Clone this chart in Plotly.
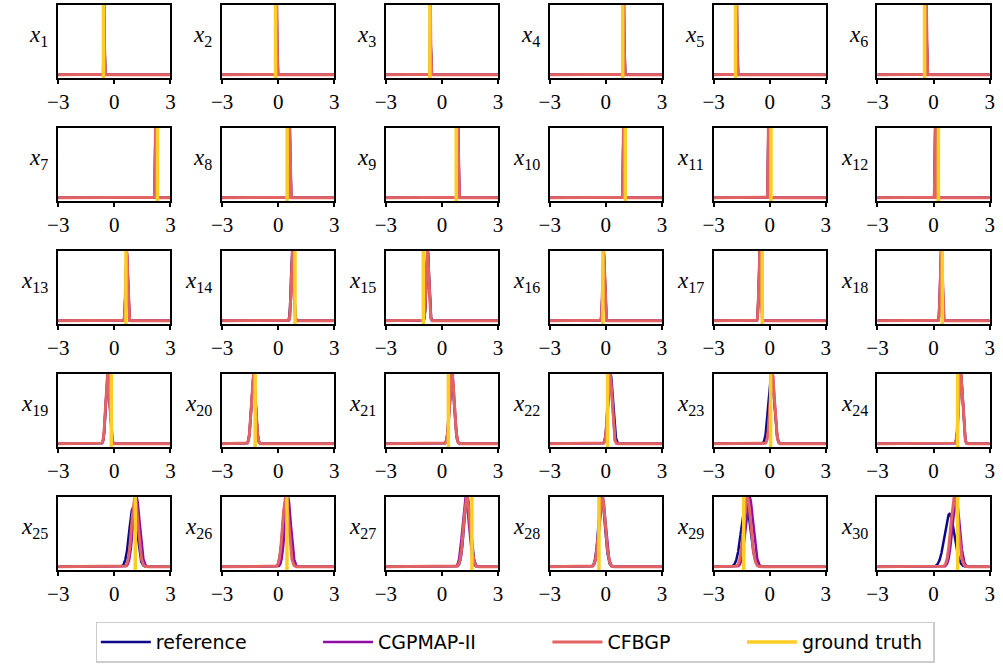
import numpy as np
import plotly.graph_objects as go

W, H = 1003, 666

# ---------------- data ----------------
truth = [-0.58, -0.14, -0.65, 0.90, -1.83, -0.48,
         2.31, 0.48, 0.76, 1.04, 0.07, 0.26,
         0.62, 0.90, -1.00, -0.16, -0.40, 0.47,
         -0.16, -1.23, 0.34, 0.09, 0.05, 1.29,
         1.12, 0.47, 1.60, -0.37, -1.39, 1.29]

# posterior mean / sd / relative peak height for each method
ref_mu = [-0.55, -0.08, -0.62, 0.96, -1.76, -0.38,
          2.20, 0.62, 0.86, 0.94, -0.07, 0.09,
          0.66, 0.76, -0.76, -0.12, -0.53, 0.41,
          -0.35, -1.32, 0.52, 0.25, 0.08, 1.45,
          1.00, 0.42, 1.35, -0.22, -1.28, 0.85]
ref_sd = [0.015, 0.015, 0.015, 0.015, 0.015, 0.015,
          0.02, 0.02, 0.02, 0.02, 0.02, 0.02,
          0.05, 0.07, 0.07, 0.05, 0.05, 0.05,
          0.10, 0.11, 0.12, 0.13, 0.15, 0.10,
          0.20, 0.17, 0.17, 0.17, 0.24, 0.26]
ref_h = [1.0] * 24 + [0.85, 1.0, 1.0, 1.0, 0.92, 0.76]

cgp_mu = [-0.55, -0.07, -0.62, 0.97, -1.76, -0.37,
          2.20, 0.62, 0.86, 0.94, -0.07, 0.09,
          0.66, 0.77, -0.77, -0.12, -0.53, 0.40,
          -0.36, -1.32, 0.54, 0.22, 0.14, 1.46,
          1.18, 0.52, 1.27, -0.18, -1.08, 1.20]
cgp_sd = [0.015, 0.015, 0.015, 0.015, 0.015, 0.015,
          0.02, 0.02, 0.02, 0.02, 0.02, 0.02,
          0.05, 0.06, 0.07, 0.05, 0.05, 0.05,
          0.10, 0.11, 0.12, 0.11, 0.12, 0.10,
          0.18, 0.16, 0.17, 0.17, 0.20, 0.19]
cgp_h = [1.0] * 30

cfb_mu = [-0.55, -0.08, -0.62, 0.96, -1.76, -0.38,
          2.20, 0.62, 0.86, 0.94, -0.07, 0.09,
          0.66, 0.76, -0.78, -0.12, -0.53, 0.41,
          -0.36, -1.32, 0.53, 0.22, 0.14, 1.45,
          1.10, 0.40, 1.33, -0.20, -1.20, 1.12]
cfb_sd = [0.015, 0.015, 0.015, 0.015, 0.015, 0.015,
          0.02, 0.02, 0.02, 0.02, 0.02, 0.02,
          0.05, 0.06, 0.07, 0.05, 0.05, 0.05,
          0.10, 0.11, 0.12, 0.11, 0.12, 0.10,
          0.17, 0.16, 0.17, 0.17, 0.19, 0.19]
cfb_h = [1.0] * 30

xticks = [-3, 0, 3]
xtick_text = ["\u22123", "0", "3"]

series_names = ["reference", "CGPMAP-II", "CFBGP", "ground truth"]
colors = ["#0d0887", "#8f0da4", "#e16462", "#fcce25"]
widths = [2.5, 2.5, 3.0, 3.5]

SERIF = "Liberation Serif, Times New Roman, serif"
pad = "\u00a0" * 11

# ---------------- layout geometry (pixels) ----------------
col_left = [48, 214.5, 381, 547.5, 714, 880.5]
plot_w = 114
row_top = [5, 128, 251, 374, 497]
plot_h = 73

grid = np.linspace(-3, 3, 3001)

fig = go.Figure()
layout = dict(
    width=W, height=H, margin=dict(l=0, r=0, t=0, b=0),
    paper_bgcolor="white", plot_bgcolor="white", showlegend=True,
)
annotations = []

methods = [(ref_mu, ref_sd, ref_h), (cgp_mu, cgp_sd, cgp_h), (cfb_mu, cfb_sd, cfb_h)]

for k in range(30):
    r, c = divmod(k, 6)
    ax = "" if k == 0 else str(k + 1)
    xa, ya = "x" + ax, "y" + ax
    x0 = col_left[c] / W
    x1 = (col_left[c] + plot_w) / W
    y1 = 1 - row_top[r] / H
    y0 = 1 - (row_top[r] + plot_h) / H
    for m, (mu, sd, hh) in enumerate(methods):
        dens = hh[k] * np.exp(-0.5 * ((grid - mu[k]) / sd[k]) ** 2)
        fig.add_trace(go.Scatter(
            x=grid, y=dens, mode="lines", xaxis=xa, yaxis=ya,
            line=dict(color=colors[m], width=widths[m]),
            name=series_names[m] + pad, legendgroup=series_names[m],
            showlegend=(k == 0), hoverinfo="skip"))
    fig.add_trace(go.Scatter(
        x=[truth[k], truth[k]], y=[-1, 2], mode="lines", xaxis=xa, yaxis=ya,
        line=dict(color=colors[3], width=widths[3]),
        name=series_names[3] + "\u00a0", legendgroup=series_names[3],
        showlegend=(k == 0), hoverinfo="skip"))
    layout["xaxis" + ax] = dict(
        domain=[x0, x1], anchor=ya, range=[-3, 3],
        tickvals=xticks, ticktext=xtick_text, ticks="outside", ticklen=4,
        tickwidth=2, tickcolor="black", showline=True, mirror=True,
        linecolor="black", linewidth=2, showgrid=False, zeroline=False,
        tickfont=dict(family=SERIF, size=21, color="black"),
    )
    layout["yaxis" + ax] = dict(
        domain=[y0, y1], anchor=xa, range=[-0.045, 1.0],
        showticklabels=False, ticks="", showline=True, mirror=True,
        linecolor="black", linewidth=2, showgrid=False, zeroline=False,
    )
    annotations.append(dict(
        text=f"<i>x</i><sub>{k + 1}</sub>", xref="paper", yref="paper",
        x=(col_left[c] - 8) / W, y=1 - (row_top[r] + plot_h * 0.42) / H,
        xanchor="right", yanchor="middle", showarrow=False,
        font=dict(family=SERIF, size=23, color="black")))

layout["annotations"] = annotations
layout["legend"] = dict(
    orientation="h", x=0.511, xanchor="center", y=0.005, yanchor="bottom",
    bordercolor="#cccccc", borderwidth=1.5, bgcolor="white",
    font=dict(family="DejaVu Sans", size=19, color="black"),
    itemwidth=50, tracegroupgap=0,
)
fig.update_layout(**layout)
fig.write_html("out.html")
